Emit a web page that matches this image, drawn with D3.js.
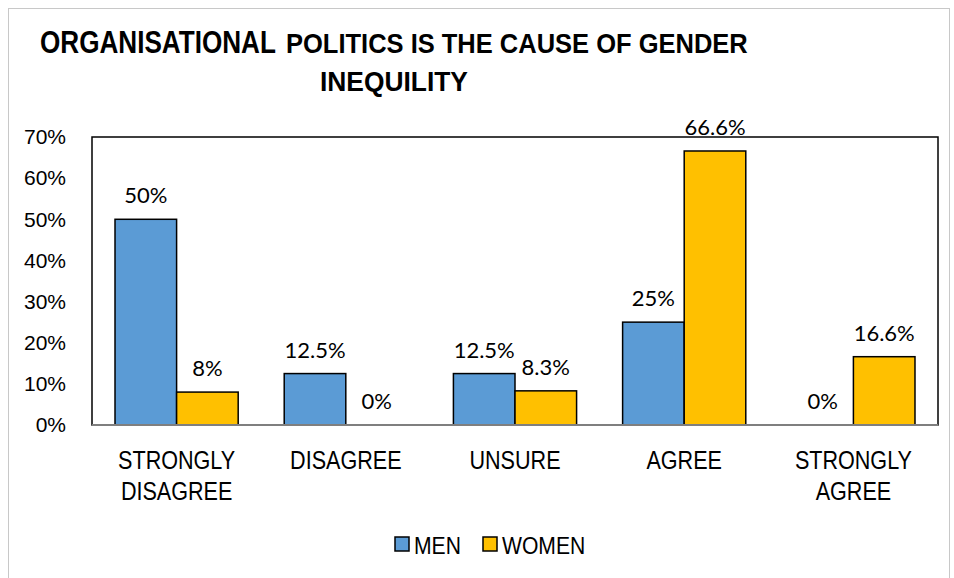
<!DOCTYPE html>
<html>
<head>
<meta charset="utf-8">
<script src="https://cdn.jsdelivr.net/npm/d3@7"></script>
<style>
  body { margin: 0; background: #fff; }
  svg { display: block; }
</style>
</head>
<body>
<div id="chart"></div>
<script>
// Chart data.
var categories = [["STRONGLY", "DISAGREE"], ["DISAGREE"], ["UNSURE"], ["AGREE"], ["STRONGLY", "AGREE"]];
var seriesNames = ["MEN", "WOMEN"];
var menValues = [0.50, 0.125, 0.125, 0.25, 0];
var womenValues = [0.08, 0, 0.083, 0.666, 0.166];
var menLabels = ["50%", "12.5%", "12.5%", "25%", "0%"];
var womenLabels = ["8%", "0%", "8.3%", "66.6%", "16.6%"];
var yTicks = [0, 0.1, 0.2, 0.3, 0.4, 0.5, 0.6, 0.7];

var width = 954, height = 578;
var plot = {left: 92, right: 938, top: 137, bottom: 425};
var colors = ["#5b9bd5", "#ffc000"];
var arial = "'Liberation Sans', Arial, sans-serif";

var svg = d3.select("#chart").append("svg")
  .attr("width", width)
  .attr("height", height);

// outer chart frame
svg.append("rect")
  .attr("x", 8.5).attr("y", 8.5)
  .attr("width", 941).attr("height", 600)
  .attr("fill", "#fff")
  .attr("stroke", "#c8c8c8");

// 1. Title, three pieces squeezed to the original widths
var titleParts = [
  {text: "ORGANISATIONAL", x: 40, y: 53, size: 32, len: 236},
  {text: "POLITICS IS THE CAUSE OF GENDER", x: 286, y: 53, size: 28, len: 462},
  {text: "INEQUILITY", x: 320, y: 91, size: 28, len: 148}
];
svg.selectAll("text.title").data(titleParts)
  .enter().append("text")
  .attr("class", "title")
  .attr("font-family", arial)
  .attr("font-weight", "bold")
  .attr("font-size", function (d) { return d.size; })
  .attr("fill", "#000")
  .text(function (d) { return d.text; })
  .attr("transform", function (d) {
    var natural = this.getComputedTextLength();
    return "translate(" + d.x + "," + d.y + ") scale(" + (d.len / natural) + ",1)";
  });

// 2. Scales
var x0 = d3.scaleBand()
  .domain(d3.range(categories.length))
  .range([plot.left, plot.right])
  .paddingInner(0.272).paddingOuter(0.136);
var x1 = d3.scaleBand()
  .domain(d3.range(seriesNames.length))
  .range([0, x0.bandwidth()]);
var y = d3.scaleLinear()
  .domain([0, 0.7])
  .range([plot.bottom, plot.top]);

// 3. Plot area box
svg.append("rect")
  .attr("x", plot.left).attr("y", plot.top)
  .attr("width", plot.right - plot.left)
  .attr("height", plot.bottom - plot.top)
  .attr("fill", "none")
  .attr("stroke", "#000")
  .attr("stroke-width", 1.5);

// 4. Bars
var rows = categories.map(function (c, i) {
  return [
    {cat: i, s: 0, v: menValues[i], label: menLabels[i]},
    {cat: i, s: 1, v: womenValues[i], label: womenLabels[i]}
  ];
});
var groups = svg.selectAll("g.group").data(rows)
  .enter().append("g")
  .attr("class", "group")
  .attr("transform", function (d, i) { return "translate(" + x0(i) + ",0)"; });

groups.selectAll("rect").data(function (d) { return d.filter(function (e) { return e.v > 0; }); })
  .enter().append("rect")
  .attr("x", function (d) { return x1(d.s); })
  .attr("y", function (d) { return y(d.v); })
  .attr("width", x1.bandwidth())
  .attr("height", function (d) { return y(0) - y(d.v); })
  .attr("fill", function (d) { return colors[d.s]; })
  .attr("stroke", "#000")
  .attr("stroke-width", 1.5);

// 4.1 Value labels
groups.selectAll("text").data(function (d) { return d; })
  .enter().append("text")
  .attr("x", function (d) { return x1(d.s) + x1.bandwidth() / 2; })
  .attr("y", function (d) { return y(d.v) - 16; })
  .attr("text-anchor", "middle")
  .attr("font-family", "Lato, 'Open Sans', sans-serif")
  .attr("font-size", 22)
  .attr("fill", "#000")
  .text(function (d) { return d.label; });

// 5. Axes
var yAxis = d3.axisLeft(y)
  .tickValues(yTicks)
  .tickSize(0)
  .tickPadding(26)
  .tickFormat(d3.format(".0%"));
var gy = svg.append("g")
  .attr("transform", "translate(" + plot.left + ",0)")
  .call(yAxis);
gy.select(".domain").remove();
gy.selectAll("text")
  .attr("font-family", arial)
  .attr("font-size", 21)
  .attr("fill", "#000");

svg.append("line")
  .attr("x1", plot.left).attr("x2", plot.right)
  .attr("y1", plot.bottom).attr("y2", plot.bottom)
  .attr("stroke", "#7f7f7f")
  .attr("stroke-width", 2);

// 5.1 Category labels (tall, narrow text)
var catLabels = svg.selectAll("g.cat").data(categories)
  .enter().append("g")
  .attr("class", "cat")
  .attr("transform", function (d, i) {
    return "translate(" + (x0(i) + x0.bandwidth() / 2) + ",469) scale(0.83,1)";
  });
catLabels.selectAll("text").data(function (d) { return d; })
  .enter().append("text")
  .attr("x", 0)
  .attr("y", function (d, j) { return j * 31; })
  .attr("text-anchor", "middle")
  .attr("font-family", arial)
  .attr("font-size", 26)
  .attr("fill", "#000")
  .text(function (d) { return d; });

// 6. Legend
var legendX = [395, 483];
var legend = svg.selectAll("g.legend").data(seriesNames)
  .enter().append("g")
  .attr("class", "legend")
  .attr("transform", function (d, i) { return "translate(" + legendX[i] + ",537)"; });
legend.append("rect")
  .attr("width", 14).attr("height", 14)
  .attr("fill", function (d, i) { return colors[i]; })
  .attr("stroke", "#000")
  .attr("stroke-width", 1.5);
legend.append("text")
  .attr("transform", "translate(19,17) scale(0.88,1)")
  .attr("font-family", arial)
  .attr("font-size", 24)
  .attr("fill", "#000")
  .text(function (d) { return d; });
</script>
</body>
</html>
